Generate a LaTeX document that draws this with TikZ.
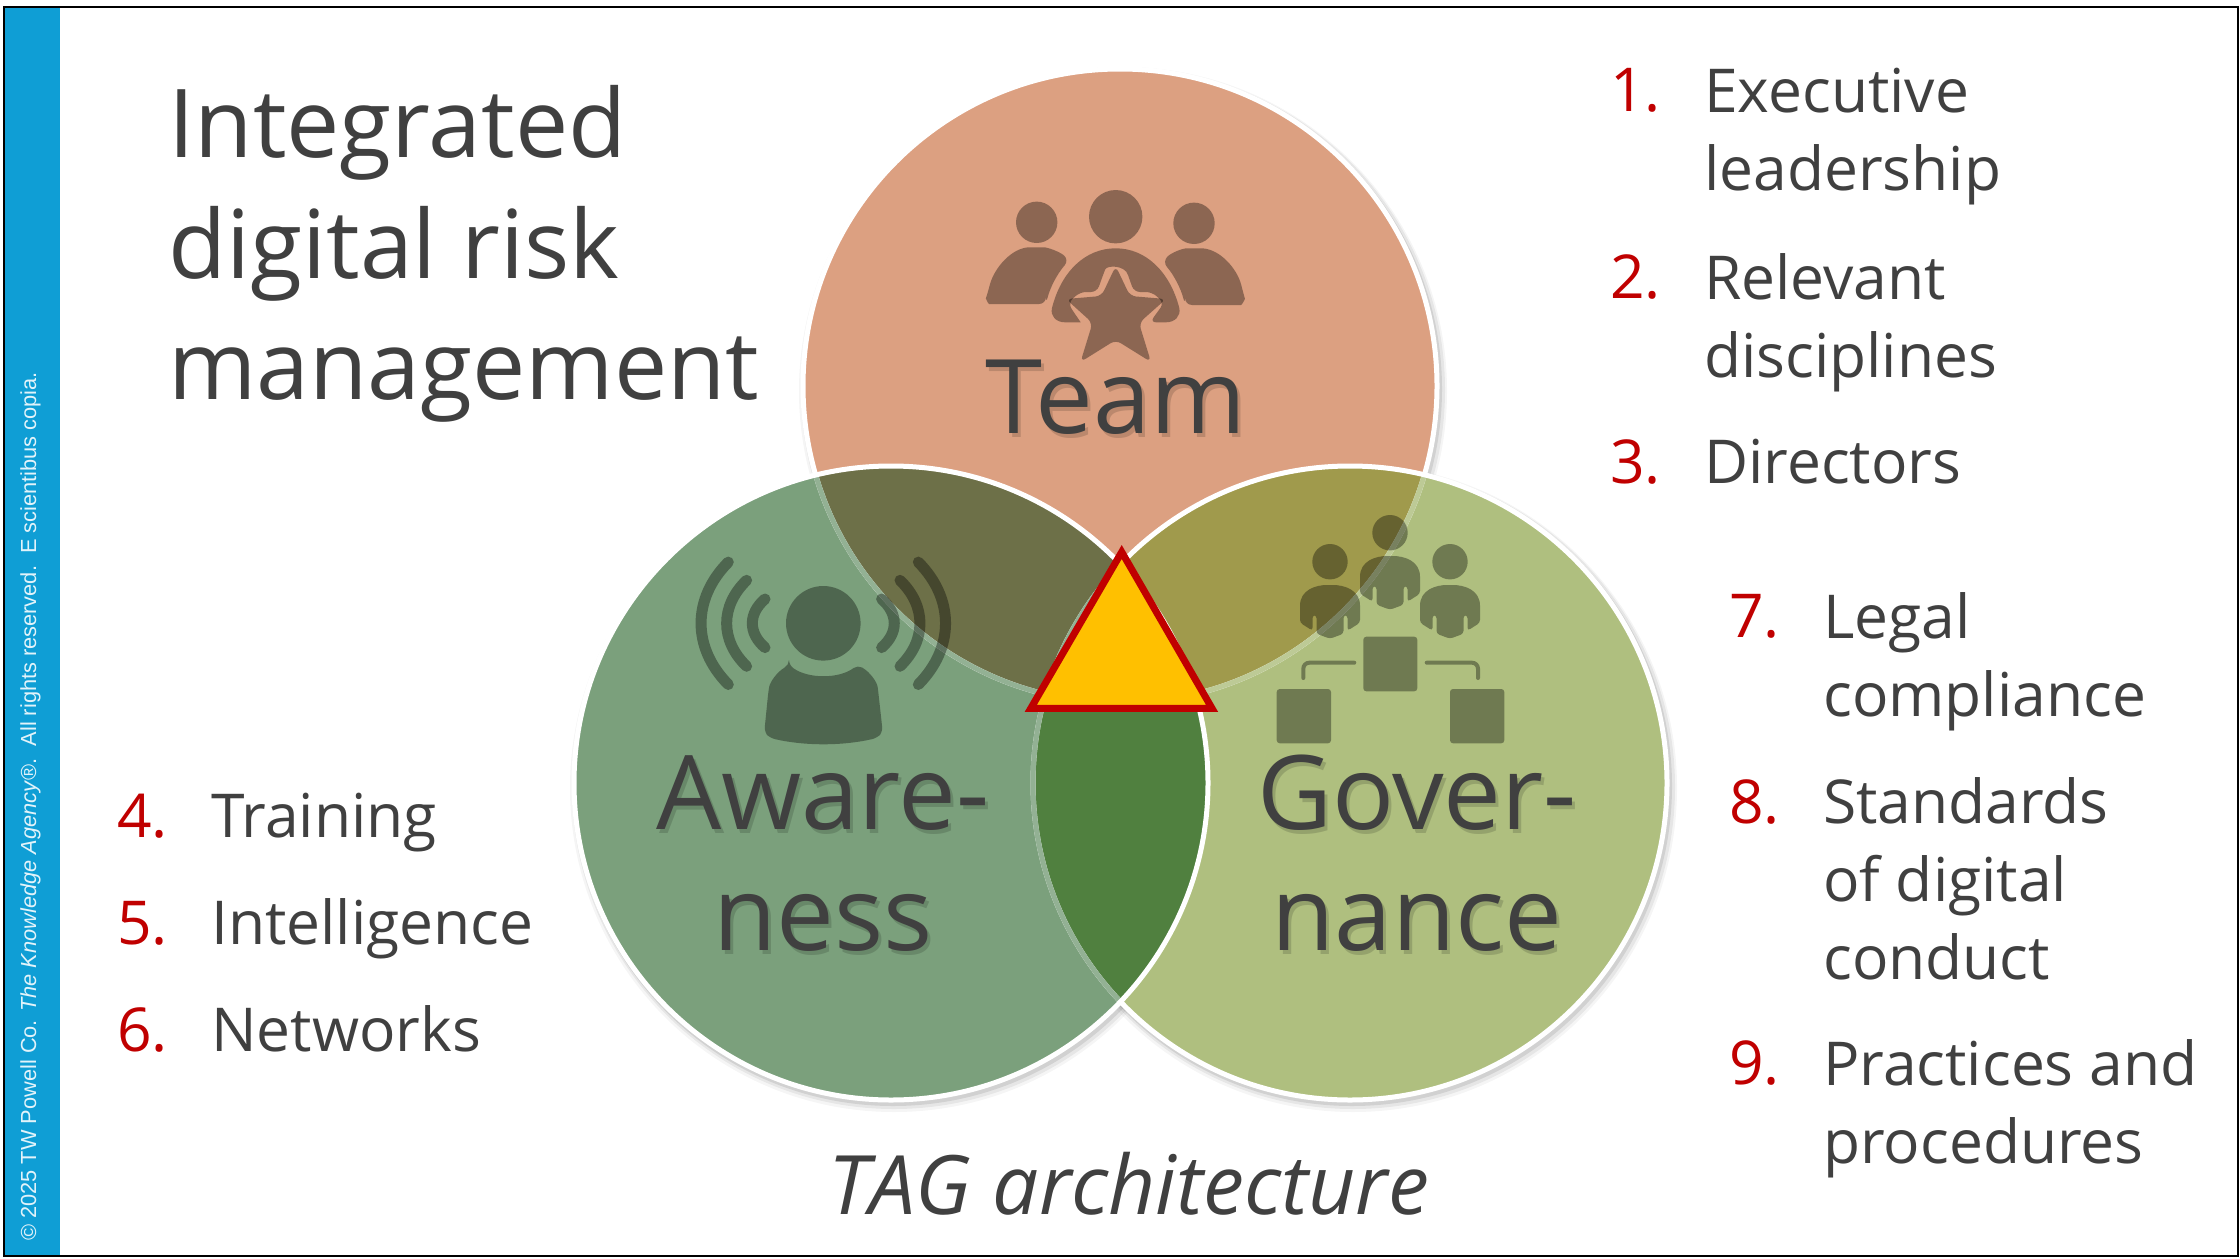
\documentclass[tikz,border=0pt]{standalone}
\usepackage{fontspec}
\setmainfont{Open Sans}
\newfontfamily\bandfont{Liberation Sans}
\definecolor{teamfill}{HTML}{DCA081}
\definecolor{awarefill}{HTML}{7BA07C}
\definecolor{govfill}{HTML}{AFBF7F}
\definecolor{teamaware}{HTML}{6D7048}
\definecolor{teamgov}{HTML}{A09A4C}
\definecolor{awaregov}{HTML}{50803F}
\definecolor{inktext}{HTML}{404040}
\definecolor{numred}{HTML}{C00000}
\definecolor{bandblue}{HTML}{0F9ED5}
\definecolor{triyellow}{HTML}{FFC000}
\tikzset{
	listnum/.style={anchor=base west, inner sep=0pt, text=numred, font=\fontsize{60.5}{78}\selectfont},
	listitem/.style={anchor=base west, inner sep=0pt, align=left, text=inktext, font=\fontsize{60.5}{78}\selectfont},
	bigword/.style={anchor=base, inner sep=0pt, align=center, text=inktext, font=\fontsize{103}{121}\selectfont},
	wordshadow/.style={bigword, text=black, text opacity=0.15},
	icon/.style={fill=black, fill opacity=0.36},
	ring/.style={line width=5pt}
}
\begin{document}
\begin{tikzpicture}[x=1pt, y=-1pt]
		\useasboundingbox (0,0) rectangle (2240,1258);
		\newcommand\ballshadow[2]{ %% argument 1: x-position, argument 2: y-position
			\fill[black, opacity=0.04] (#1+3,#2+5) circle (324);
			\fill[black, opacity=0.06] (#1+3,#2+4) circle (322);
			\fill[black, opacity=0.09] (#1+2,#2+3) circle (320);
		}
		\newcommand\wavearc[3]{ %% argument 1: end offset, argument 2: bulge offset, argument 3: half height
			\draw[black, opacity=0.36, line width=11pt, line cap=round] (823.3+#1,623.3-#3) .. controls ({823.3+#1+1.33*(#2-#1)},623.3-0.4*#3) and ({823.3+#1+1.33*(#2-#1)},623.3+0.4*#3) .. (823.3+#1,623.3+#3);
			\draw[black, opacity=0.36, line width=11pt, line cap=round] (823.3-#1,623.3-#3) .. controls ({823.3-#1-1.33*(#2-#1)},623.3-0.4*#3) and ({823.3-#1-1.33*(#2-#1)},623.3+0.4*#3) .. (823.3-#1,623.3+#3);
		}
		\newcommand\govperson[2]{ %% argument 1: head x, argument 2: head y
			\fill[icon] (#1,#2) circle (17.7);
			\fill[icon, rounded corners=3pt, shift={(#1,#2)}] (-30,47) .. controls (-30,28) and (-14,23.3) .. (0,23.3) .. controls (14,23.3) and (30,28) .. (30,47) -- (30,61) -- (17.5,69) -- (17.5,53.5) -- (13.5,53.5) -- (13.5,72) -- (0,77) -- (-13.5,72) -- (-13.5,53.5) -- (-17.5,53.5) -- (-17.5,69) -- (-30,61) -- cycle;
		}

		%% frame and band
		\fill[white] (0,0) rectangle (2240,1258);
		\fill[bandblue] (5,8) rectangle (60,1255);
		\draw[black, line width=2pt] (4,7) rectangle (2238,1256);
		\node[rotate=90, anchor=west, inner sep=0pt, text=white!88!bandblue, font=\bandfont\fontsize{21.8}{24}\selectfont] (bandtext) at (30.5,1241) {© 2025 TW Powell Co. \textit{The Knowledge Agency}®.~~All rights reserved.~~E scientibus copia.};

		%% circles
		\ballshadow{1120}{386}
		\ballshadow{1350}{783}
		\ballshadow{891}{783}
		\fill[teamfill] (1120,386) circle (316);
		\fill[govfill] (1350,783) circle (316);
		\fill[awarefill] (891,783) circle (316);
		\begin{scope}
			\clip (1120,386) circle (316);
			\fill[teamgov] (1350,783) circle (316);
			\fill[teamaware] (891,783) circle (316);
		\end{scope}
		\begin{scope}
			\clip (891,783) circle (316);
			\fill[awaregov] (1350,783) circle (316);
		\end{scope}

		%% rings, faint where another circle lies over them
		\draw[ring, white] (1120,386) circle (317);
		\begin{scope}
			\clip (1350,783) circle (316);
			\draw[ring, govfill!82!white] (1120,386) circle (317);
		\end{scope}
		\begin{scope}
			\clip (891,783) circle (316);
			\draw[ring, awarefill!82!white] (1120,386) circle (317);
		\end{scope}
		\draw[ring, white] (1350,783) circle (317);
		\begin{scope}
			\clip (891,783) circle (316);
			\draw[ring, awarefill!82!white] (1350,783) circle (317);
		\end{scope}
		\draw[ring, white] (891,783) circle (317);

		%% team icon
		\fill[icon] (1115.7,216.7) circle (26.7);
		\fill[icon] (1036.7,222.3) circle (20.7);
		\fill[icon] (1194,223.3) circle (20.7);
		\fill[icon, rounded corners=7pt] (1046,304) -- (996,304) .. controls (988,304) and (986,298) .. (988,292) .. controls (994,268) and (1012,247.3) .. (1036.7,247.3) .. controls (1048,247.3) and (1060,252) .. (1069.3,260) .. controls (1057,274) and (1050,288) .. cycle;
		\fill[icon, rounded corners=7pt] (1185,305) -- (1234,305) .. controls (1242,305) and (1245,299) .. (1243,292) .. controls (1237,268) and (1219,248.3) .. (1194,248.3) .. controls (1182,248.3) and (1171,253) .. (1162.3,261.7) .. controls (1174,275) and (1181,289) .. cycle;
		\fill[icon] (1080.7,322.3) -- (1073,311) [rounded corners=6pt] -- (1068,303) -- (1080,292) -- (1097,292) -- (1103,275) [sharp corners] .. controls (1107,265) and (1125,265) .. (1128,275) [rounded corners=6pt] -- (1134,292) -- (1152,292) -- (1164,303) -- (1150,322.3) [sharp corners] -- (1166,322.3) .. controls (1175,322.3) and (1181,316) .. (1179.3,308) .. controls (1170,272) and (1146,248.3) .. (1115.7,248.3) .. controls (1085,248.3) and (1061,272) .. (1052,308) .. controls (1050,316) and (1056,322.3) .. (1065,322.3) -- cycle;
		\fill[icon, rounded corners=6pt] (1115.7,266) -- (1130,296) -- (1166,299) -- (1139,323) -- (1151,362) -- (1115.7,340) -- (1080.5,362) -- (1092.5,323) -- (1066,299) -- (1101.5,296) -- cycle;

		%% awareness icon
		\fill[icon] (823.3,623.3) circle (37.3);
		\fill[icon, rounded corners=5pt] (789,665) .. controls (808,679) and (839,679) .. (857.7,665) .. controls (870,672) and (877,682) .. (878.3,692) -- (882.7,732) -- (877,738) .. controls (842,746) and (805,746) .. (770,738) -- (764.3,732) -- (768.3,692) .. controls (770,682) and (777,672) .. cycle;
		\wavearc{58.3}{71}{24.3}
		\wavearc{76.7}{96.7}{43}
		\wavearc{95}{122.3}{61.2}

		%% governance icon
		\govperson{1330}{561.7}
		\govperson{1390}{532.7}
		\govperson{1450}{561.7}
		\fill[icon, rounded corners=3pt] (1363.3,636.7) rectangle (1417.3,691.3);
		\fill[icon, rounded corners=3pt] (1276.7,689) rectangle (1331,743.3);
		\fill[icon, rounded corners=3pt] (1450,689) rectangle (1504.3,743.3);
		\draw[black, opacity=0.36, line width=4pt, line cap=round, rounded corners=6pt] (1354.3,662.7) -- (1303.3,662.7) -- (1303.3,678);
		\draw[black, opacity=0.36, line width=4pt, line cap=round, rounded corners=6pt] (1426.7,662.7) -- (1478,662.7) -- (1478,678);

		%% triangle
		\coordinate (tritop) at (1121.7,552);
		\coordinate (trileft) at (1030.8,708.3);
		\coordinate (triright) at (1212,708.3);
		\draw[numred, fill=triyellow, line width=7pt] (tritop) -- (trileft) -- (triright) -- cycle;

		%% words in the circles
		\node[wordshadow] (teamshade) at (1119,437) {Team};
		\node[wordshadow] (awareshade) at (826,954) {Aware-\\ness};
		\node[wordshadow] (govshade) at (1420,954) {Gover-\\nance};
		\node[bigword] (teamword) at (1116,433) {Team};
		\node[bigword] (awareword) at (823,950) {Aware-\\ness};
		\node[bigword] (govword) at (1417,950) {Gover-\\nance};

		%% title and caption
		\node[anchor=base west, inner sep=0pt, align=left, text=inktext, font=\fontsize{95}{121}\selectfont] (title) at (168,399) {Integrated\\digital risk\\management};
		\node[anchor=base, inner sep=0pt, text=inktext, font=\itshape\fontsize{82}{90}\selectfont] (caption) at (1129,1214) {TAG architecture};

		%% lists
		\node[listnum] (num1) at (1610,111) {1.};
		\node[listitem] (item1) at (1704,190) {Executive\\leadership};
		\node[listnum] (num2) at (1610,298) {2.};
		\node[listitem] (item2) at (1704,377) {Relevant\\disciplines};
		\node[listnum] (num3) at (1610,483) {3.};
		\node[listitem] (item3) at (1704,483) {Directors};
		\node[listnum] (num4) at (117,837) {4.};
		\node[listitem] (item4) at (211,837) {Training};
		\node[listnum] (num5) at (117,944) {5.};
		\node[listitem] (item5) at (211,944) {Intelligence};
		\node[listnum] (num6) at (117,1051) {6.};
		\node[listitem] (item6) at (211,1051) {Networks};
		\node[listnum] (num7) at (1729,637) {7.};
		\node[listitem] (item7) at (1823,716) {Legal\\compliance};
		\node[listnum] (num8) at (1729,823) {8.};
		\node[listitem] (item8) at (1823,979) {Standards\\of digital\\conduct};
		\node[listnum] (num9) at (1729,1084) {9.};
		\node[listitem] (item9) at (1823,1163) {Practices and\\procedures};
	\end{tikzpicture}
\end{document}
